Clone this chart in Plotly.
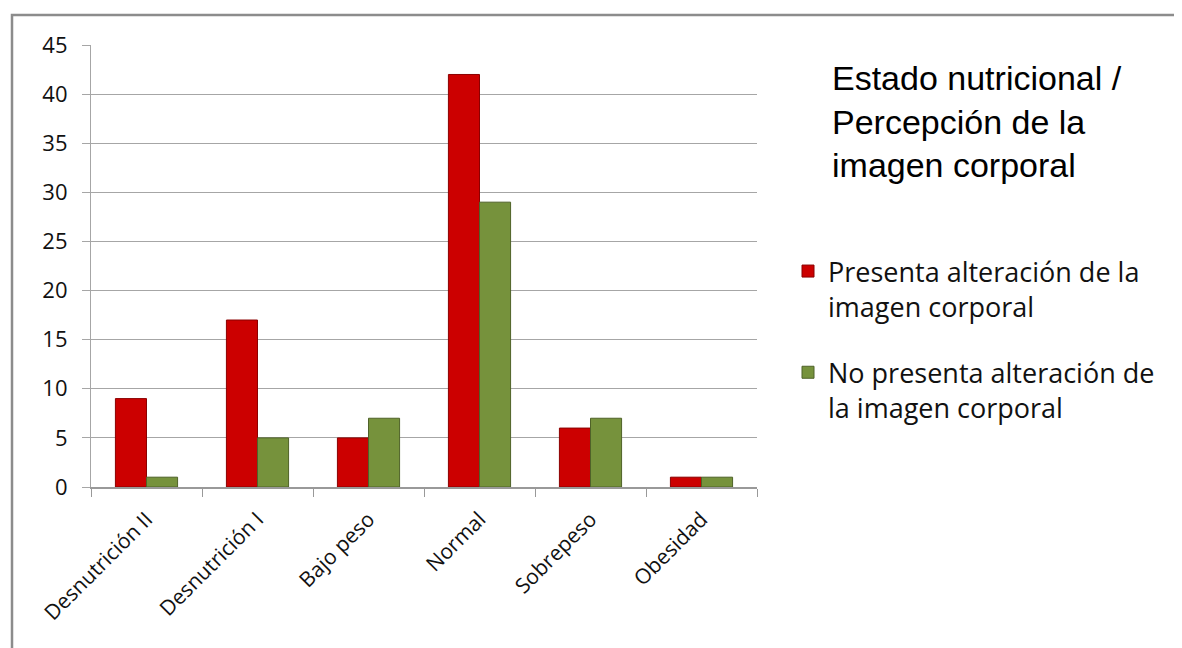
import plotly.graph_objects as go

categories = ["Desnutrición II", "Desnutrición I", "Bajo peso", "Normal", "Sobrepeso", "Obesidad"]
presenta = [9, 17, 5, 42, 6, 1]
no_presenta = [1, 5, 7, 29, 7, 1]
series_names = ["Presenta alteración de la<br>imagen corporal",
                "No presenta alteración de<br>la imagen corporal"]
title_lines = ["Estado nutricional /", "Percepción de la", "imagen corporal"]
y_ticks = [0, 5, 10, 15, 20, 25, 30, 35, 40, 45]

# page body has an 8px margin; figure coordinates = screen - 8
W, H = 1174, 640
L, R, T, B = 83, 425, 37, 161
pw, ph = W - L - R, H - T - B


def px(xf):
    return (xf - L) / pw


def py(yf):
    return (H - B - yf) / ph


fig = go.Figure()
fig.add_trace(go.Bar(
    x=categories, y=presenta, name=series_names[0], legendgroup="a",
    marker=dict(color="#CC0000", line=dict(color="#8B0000", width=1)),
))
fig.add_trace(go.Bar(
    x=categories, y=no_presenta, name=series_names[1], legendgroup="b",
    marker=dict(color="#76923C", line=dict(color="#4F6228", width=1)),
))

annotations = []
title_centers = [70, 114, 157]
for line, yc in zip(title_lines, title_centers):
    annotations.append(dict(
        text=line, showarrow=False, align="left",
        xref="paper", yref="paper",
        x=px(822), y=py(yc), xanchor="left", yanchor="middle",
        font=dict(family="Liberation Sans, Arial, sans-serif", size=34, color="#000000"),
    ))

fig.update_layout(
    width=W, height=H,
    margin=dict(l=L, r=R, t=T, b=B, autoexpand=False),
    paper_bgcolor="white", plot_bgcolor="white",
    barmode="group", bargap=0.44, bargroupgap=0.0,
    font=dict(family="Open Sans, Noto Sans, sans-serif", color="#222222", size=21),
    showlegend=True,
    legend=dict(
        x=px(780), y=py(239), xanchor="left", yanchor="top",
        font=dict(size=27, family="Open Sans, sans-serif", color="#111111"),
        tracegroupgap=28, itemwidth=30, valign="top", bgcolor="rgba(0,0,0,0)",
    ),
    xaxis=dict(
        showline=True, linecolor="#999999", linewidth=1.5,
        ticks="outside", ticklen=8, tickcolor="#999999",
        tickson="boundaries", tickangle=-45, ticklabelstandoff=10,
        tickfont=dict(size=21, color="#111111"),
        showgrid=False,
    ),
    yaxis=dict(
        range=[0, 45], tickvals=y_ticks, showgrid=True, gridcolor="#A6A6A6", gridwidth=1.2,
        showline=True, linecolor="#A6A6A6", linewidth=1.2,
        ticks="outside", ticklen=8, tickcolor="#A6A6A6", ticklabelstandoff=10,
        tickfont=dict(size=22, color="#111111"), zeroline=False,
    ),
    annotations=annotations,
    shapes=[dict(
        type="rect", xref="paper", yref="paper",
        x0=px(4), y0=py(660), x1=px(1200), y1=py(7),
        line=dict(color="#8C8C8C", width=2.5), fillcolor="rgba(0,0,0,0)", layer="below",
    )],
)

fig.write_html("out.html")
